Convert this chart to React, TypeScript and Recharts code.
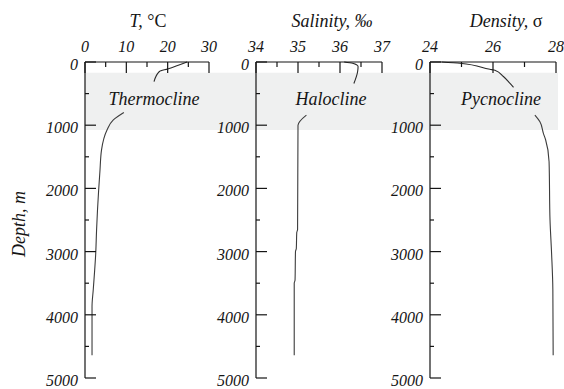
import React from 'react';
import { LineChart, Line, XAxis, YAxis, ReferenceArea, ReferenceLine } from 'recharts';

// page & frame
const W = 564;
const H = 389;
const TOP = 62;
const BOTTOM = 378;
const INK = '#151515';
const FONT = "'Liberation Serif', 'DejaVu Serif', serif";

// depth axis (m), shared by all three panels
const depthTicks = [0, 500, 1000, 1500, 2000, 2500, 3000, 3500, 4000, 4500, 5000];
const depthLabels = [0, 1000, 2000, 3000, 4000, 5000];

// shaded cline layer (m)
const bandTop = 170;
const bandBottom = 1075;

// temperature profile (broken where the label sits)
const tempUpperDepth = [0, 110, 150, 310];
const tempUpperValue = [24.7, 20, 18, 16.7];
const tempLowerDepth = [800, 920, 1080, 1390, 1740, 2030, 2660, 3020, 3600, 3870, 4640];
const tempLowerValue = [9.4, 6.8, 5.3, 4.0, 3.6, 3.3, 2.8, 2.6, 2.0, 1.7, 1.7];
const tempTicks = [0, 5, 10, 15, 20, 25, 30];
const tempLabels = [0, 10, 20, 30];

// salinity profile
const salUpperDepth = [0, 20, 70, 150, 340];
const salUpperValue = [36.1, 36.3, 36.43, 36.42, 36.33];
const salLowerDepth = [840, 1000, 2650, 2700, 2950, 3000, 3450, 3500, 4640];
const salLowerValue = [35.2, 35.0, 34.99, 34.97, 34.96, 34.94, 34.93, 34.91, 34.91];
const salTicks = [34, 34.5, 35, 35.5, 36, 36.5, 37];
const salLabels = [34, 35, 36, 37];

// density profile
const densUpperDepth = [0, 20, 115, 130, 230, 340, 400];
const densUpperValue = [24.37, 24.95, 25.9, 26.06, 26.33, 26.54, 26.65];
const densLowerDepth = [840, 945, 1130, 1230, 1580, 2500, 3030, 3600, 4640];
const densLowerValue = [27.33, 27.49, 27.6, 27.67, 27.78, 27.81, 27.86, 27.9, 27.91];
const densTicks = [24, 25, 26, 27, 28];
const densLabels = [24, 26, 28];

const noteDepth = 680;

type Row = { depth: number; upper?: number; lower?: number };

const toRows = (ud: number[], uv: number[], ld: number[], lv: number[]): Row[] => [
  ...ud.map((d, i) => ({ depth: d, upper: uv[i] })),
  ...ld.map((d, i) => ({ depth: d, lower: lv[i] })),
];

function TopTick(props: any) {
  const { x, y, payload, labels } = props;
  const major = labels.includes(payload.value);
  return (
    <g>
      <line x1={x} x2={x} y1={y} y2={y + (major ? 11 : 5)} stroke={INK} strokeWidth={1.2} />
      {major && (
        <text x={x} y={y - 10} textAnchor="middle" fontFamily={FONT} fontStyle="italic" fontSize={16} fill={INK}>
          {payload.value}
        </text>
      )}
    </g>
  );
}

function LeftTick(props: any) {
  const { x, y, payload } = props;
  const major = depthLabels.includes(payload.value);
  return (
    <g>
      <line x1={x} x2={x + (major ? 11 : 4)} y1={y} y2={y} stroke={INK} strokeWidth={1.2} />
      {major && (
        <text x={x - 7} y={y + 8} textAnchor="end" fontFamily={FONT} fontStyle="italic" fontSize={16} fill={INK}>
          {payload.value}
        </text>
      )}
    </g>
  );
}

type PanelProps = {
  rows: Row[];
  left: number;
  right: number;
  domain: [number, number];
  ticks: number[];
  labels: number[];
  title: React.ReactNode;
  titleDx: number;
  note: string;
  noteDx: number;
  depthTitle?: boolean;
};

function Panel({ rows, left, right, domain, ticks, labels, title, titleDx, note, noteDx, depthTitle }: PanelProps) {
  const cx = (left + right) / 2;
  return (
    <div style={{ position: 'absolute', left: 0, top: 0 }}>
      <LineChart
        width={W}
        height={H}
        data={rows}
        layout="vertical"
        margin={{ top: TOP - 1, bottom: H - BOTTOM, left: left - 1, right: W - right }}
      >
        <XAxis
          type="number"
          orientation="top"
          domain={domain}
          ticks={ticks}
          interval={0}
          height={1}
          axisLine={{ stroke: INK, strokeWidth: 1.2 }}
          tickLine={false}
          tickSize={0}
          tickMargin={0}
          tick={(p: any) => <TopTick {...p} labels={labels} />}
          label={{
            content: () => (
              <text x={cx + titleDx} y={27} textAnchor="middle" fontFamily={FONT} fontSize={18} fill={INK}>
                {title}
              </text>
            ),
          }}
        />
        <YAxis
          type="number"
          dataKey="depth"
          domain={[0, 5000]}
          ticks={depthTicks}
          interval={0}
          width={1}
          axisLine={{ stroke: INK, strokeWidth: 1.2 }}
          tickLine={false}
          tickSize={0}
          tickMargin={0}
          tick={(p: any) => <LeftTick {...p} />}
          label={
            depthTitle
              ? {
                  content: () => (
                    <text
                      x={25}
                      y={224}
                      transform="rotate(-90 25 224)"
                      textAnchor="middle"
                      fontFamily={FONT}
                      fontStyle="italic"
                      fontSize={18}
                      fill={INK}
                    >
                      Depth, m
                    </text>
                  ),
                }
              : undefined
          }
        />
        <ReferenceLine
          y={noteDepth}
          stroke="none"
          label={{
            content: (p: any) => (
              <text
                x={cx + noteDx}
                y={p.viewBox ? p.viewBox.y : 0}
                textAnchor="middle"
                fontFamily={FONT}
                fontStyle="italic"
                fontSize={18}
                fill={INK}
              >
                {note}
              </text>
            ),
          }}
        />
        <Line dataKey="upper" type="monotoneY" stroke="#2a2a2a" strokeWidth={1.1} dot={false} activeDot={false} connectNulls isAnimationActive={false} />
        <Line dataKey="lower" type="monotoneY" stroke="#3c3c3c" strokeWidth={1.1} dot={false} activeDot={false} connectNulls isAnimationActive={false} />
      </LineChart>
    </div>
  );
}

export default function App() {
  const tempRows = toRows(tempUpperDepth, tempUpperValue, tempLowerDepth, tempLowerValue);
  return (
    <div style={{ position: 'absolute', left: 0, top: 0, width: W, height: H, background: '#fff' }}>
      {/* shaded layer behind all three panels */}
      <div style={{ position: 'absolute', left: 0, top: 0 }}>
        <LineChart
          width={W}
          height={H}
          data={tempRows}
          layout="vertical"
          margin={{ top: TOP, bottom: H - BOTTOM, left: 85, right: W - 558 }}
        >
          <XAxis type="number" domain={[0, 30]} hide />
          <YAxis type="number" dataKey="depth" domain={[0, 5000]} hide />
          <ReferenceArea y1={bandTop} y2={bandBottom} fill="#eff0f0" fillOpacity={1} stroke="none" />
          <Line dataKey="lower" stroke="none" dot={false} activeDot={false} isAnimationActive={false} />
        </LineChart>
      </div>
      <Panel
        rows={tempRows}
        left={85}
        right={209}
        domain={[0, 30]}
        ticks={tempTicks}
        labels={tempLabels}
        title={
          <>
            <tspan fontStyle="italic">T, </tspan>
            <tspan>°C</tspan>
          </>
        }
        titleDx={1}
        note="Thermocline"
        noteDx={7}
        depthTitle
      />
      <Panel
        rows={toRows(salUpperDepth, salUpperValue, salLowerDepth, salLowerValue)}
        left={256}
        right={382}
        domain={[34, 37]}
        ticks={salTicks}
        labels={salLabels}
        title={<tspan fontStyle="italic">Salinity, ‰</tspan>}
        titleDx={13}
        note="Halocline"
        noteDx={12}
      />
      <Panel
        rows={toRows(densUpperDepth, densUpperValue, densLowerDepth, densLowerValue)}
        left={430}
        right={556}
        domain={[24, 28]}
        ticks={densTicks}
        labels={densLabels}
        title={
          <>
            <tspan fontStyle="italic">Density, </tspan>
            <tspan>σ</tspan>
          </>
        }
        titleDx={13}
        note="Pycnocline"
        noteDx={8}
      />
    </div>
  );
}
